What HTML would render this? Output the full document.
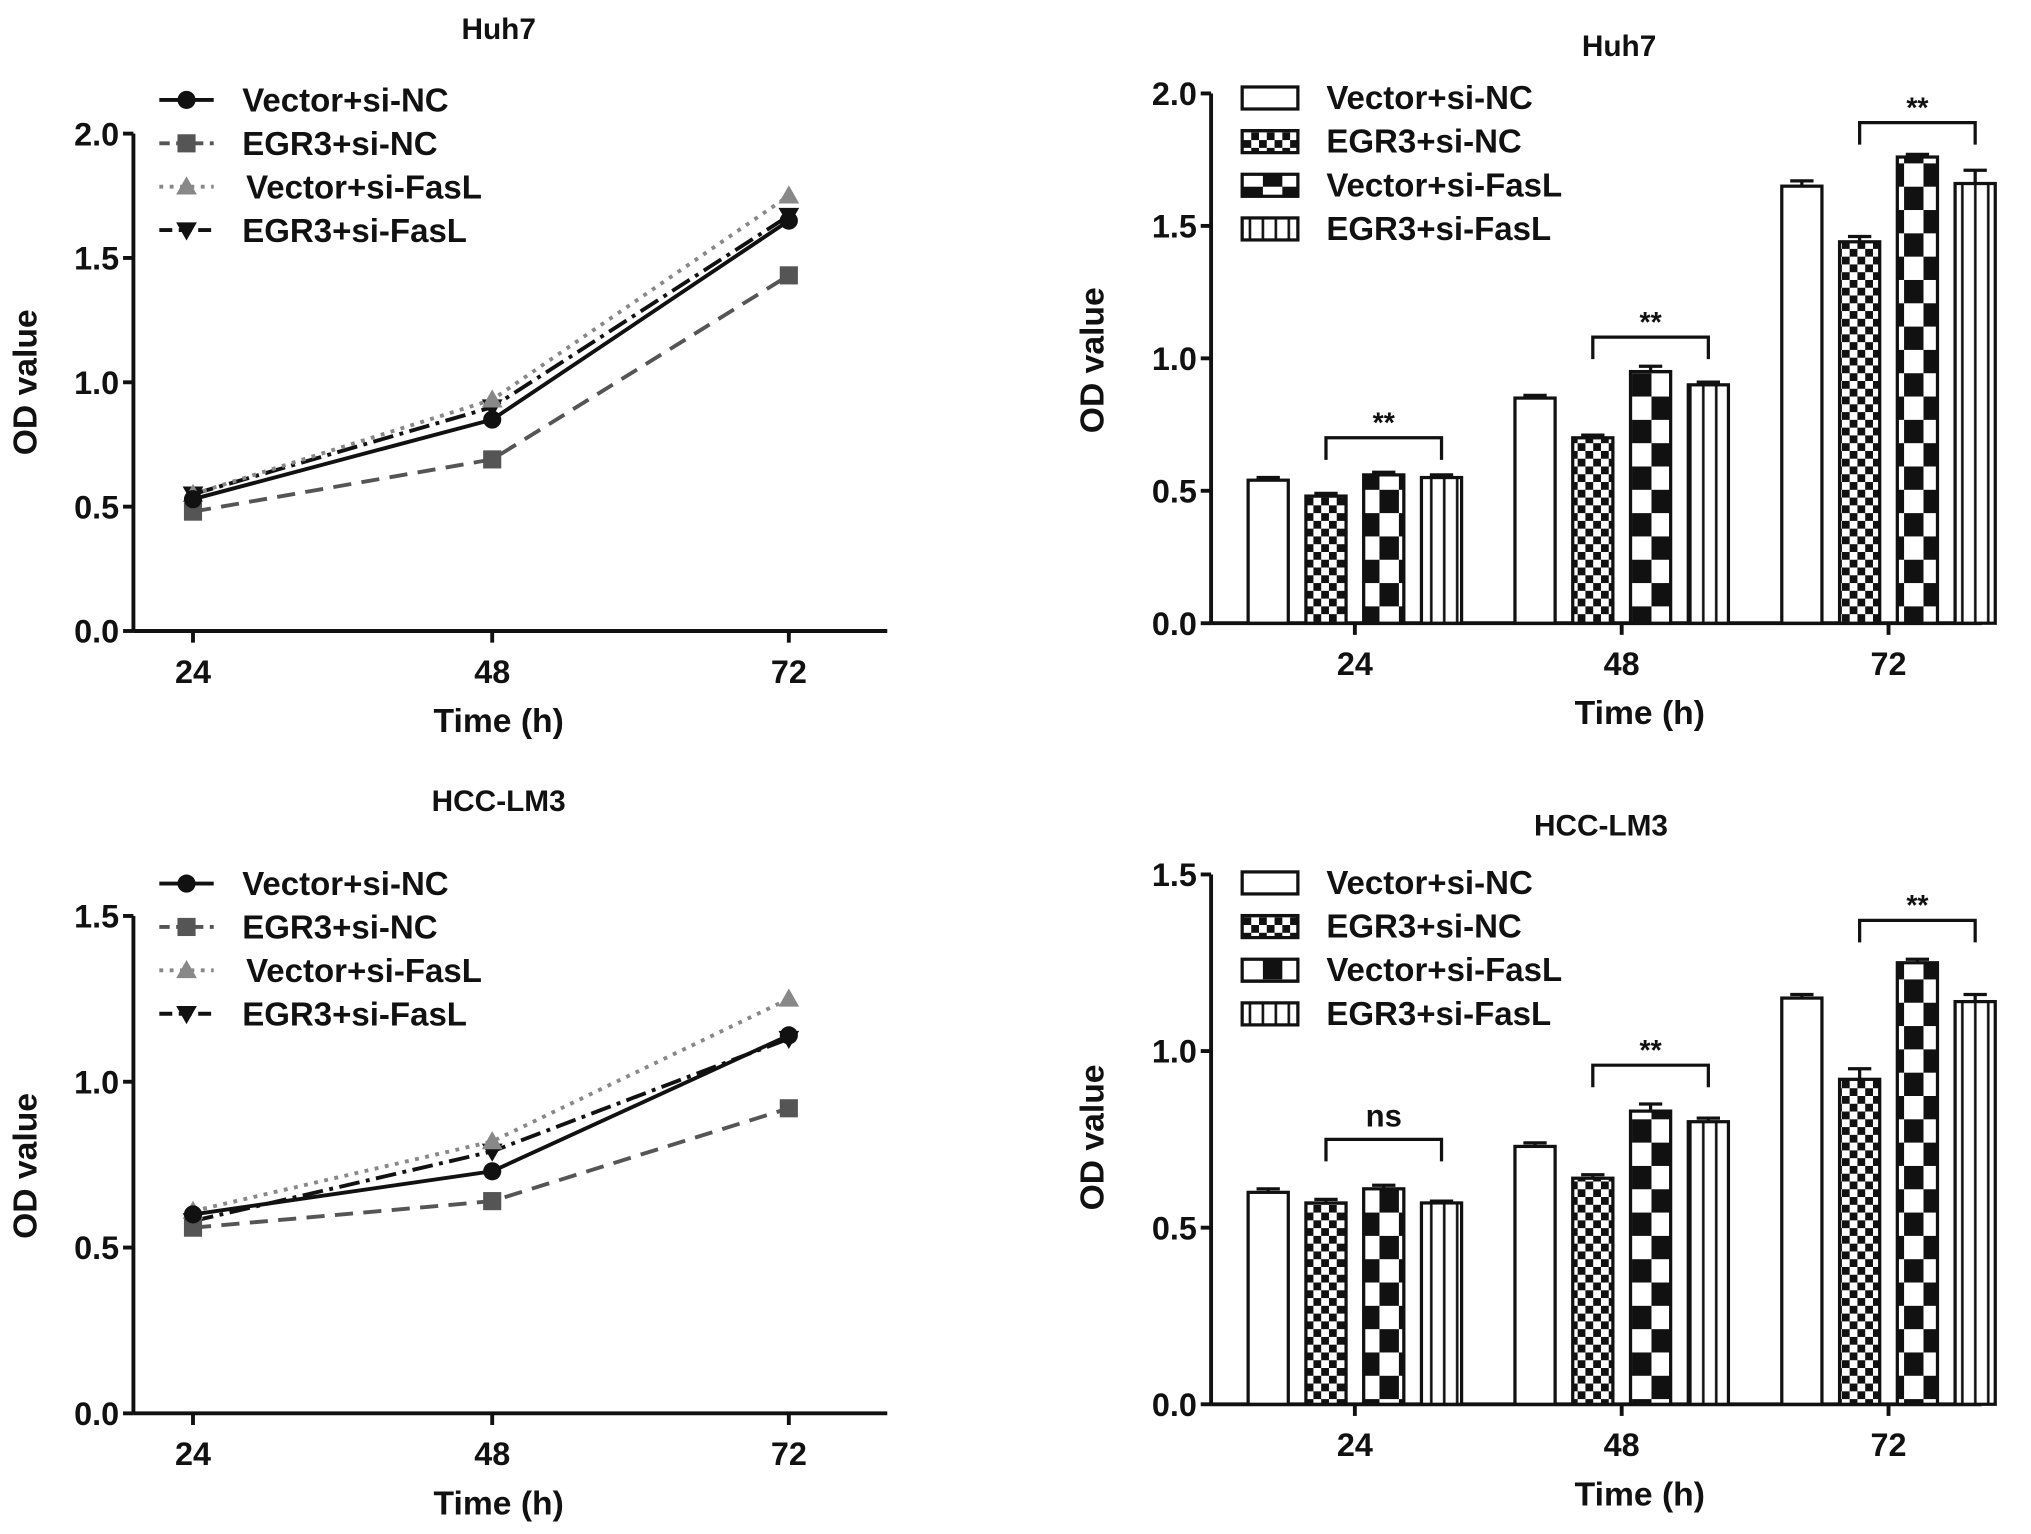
<!DOCTYPE html>
<html><head><meta charset="utf-8"><style>
html,body{margin:0;padding:0;background:#fff}
svg{display:block}
text{font-family:"Liberation Sans",Arial,sans-serif;font-weight:bold;fill:#111}
</style></head><body>
<svg id="fig" width="2031" height="1534" viewBox="0 0 1568 1184" xmlns="http://www.w3.org/2000/svg">
<defs>
<pattern id="pChk" width="12" height="12" patternUnits="userSpaceOnUse"><rect width="12" height="12" fill="#fff"/><rect width="6" height="6" fill="#111"/><rect x="6" y="6" width="6" height="6" fill="#111"/></pattern>
<pattern id="pBig" width="30" height="36" patternUnits="userSpaceOnUse"><rect width="30" height="36" fill="#fff"/><rect x="0" y="0" width="15" height="18" fill="#111"/><rect x="15" y="18" width="15" height="18" fill="#111"/></pattern>
<pattern id="pVert" width="10" height="10" patternUnits="userSpaceOnUse"><rect width="10" height="10" fill="#fff"/><rect x="4" width="2" height="10" fill="#111"/></pattern>
</defs>
</svg>
<script>
const NS="http://www.w3.org/2000/svg";
const svg=document.getElementById('fig');
const seriesNames=["Vector+si-NC","EGR3+si-NC","Vector+si-FasL","EGR3+si-FasL"];
const times=["24","48","72"];
// line chart data
const huhLine_vecNC=[0.53,0.85,1.65];
const huhLine_egrNC=[0.48,0.69,1.43];
const huhLine_vecFas=[0.55,0.93,1.75];
const huhLine_egrFas=[0.55,0.90,1.67];
const lmLine_vecNC=[0.60,0.73,1.14];
const lmLine_egrNC=[0.56,0.64,0.92];
const lmLine_vecFas=[0.61,0.82,1.25];
const lmLine_egrFas=[0.58,0.79,1.13];
// bar chart data (per series across times)
const huhBar_vecNC=[0.54,0.85,1.65];
const huhBar_egrNC=[0.48,0.70,1.44];
const huhBar_vecFas=[0.56,0.95,1.76];
const huhBar_egrFas=[0.55,0.90,1.66];
const huhBar_err=[[0.01,0.01,0.02],[0.01,0.01,0.02],[0.01,0.02,0.01],[0.01,0.01,0.05]];
const lmBar_vecNC=[0.60,0.73,1.15];
const lmBar_egrNC=[0.57,0.64,0.92];
const lmBar_vecFas=[0.61,0.83,1.25];
const lmBar_egrFas=[0.57,0.80,1.14];
const lmBar_err=[[0.01,0.01,0.01],[0.01,0.01,0.03],[0.01,0.02,0.01],[0.005,0.01,0.02]];
const huhSig=["**","**","**"];const huhSigY=[0.70,1.08,1.89];
const lmSig=["ns","**","**"];const lmSigY=[0.75,0.96,1.37];
const huhTicks=["0.0","0.5","1.0","1.5","2.0"];const huhTickVals=[0,0.5,1,1.5,2];
const lmTicks=["0.0","0.5","1.0","1.5"];const lmTickVals=[0,0.5,1,1.5];

function el(tag,attrs,parent,txt){const e=document.createElementNS(NS,tag);for(const k in attrs)e.setAttribute(k,attrs[k]);if(txt!==undefined)e.textContent=txt;(parent||svg).appendChild(e);return e;}

function axes(g,cfg){
  const y=v=>cfg.y0-(v)*cfg.ppu;
  el('line',{x1:cfg.ax,y1:cfg.y0,x2:cfg.ax,y2:y(cfg.ymax),stroke:'#111','stroke-width':3},g);
  el('line',{x1:cfg.ax,y1:cfg.y0,x2:cfg.axEnd,y2:cfg.y0,stroke:'#111','stroke-width':3},g);
  cfg.tickVals.forEach((v,i)=>{
    el('line',{x1:cfg.ax-8,y1:y(v),x2:cfg.ax,y2:y(v),stroke:'#111','stroke-width':3},g);
    const t=el('text',{x:cfg.ax-11,y:y(v)+9,'text-anchor':'end','font-size':25},g,cfg.ticks[i]);
    
    
  });
  times.forEach((tl,i)=>{
    const x=cfg.xs(i);
    el('line',{x1:x,y1:cfg.y0,x2:x,y2:cfg.y0+9,stroke:'#111','stroke-width':3},g);
    const t=el('text',{x:x,y:cfg.y0+40,'text-anchor':'middle','font-size':25},g,tl);
    
    
  });
  const xt=el('text',{x:cfg.xtX,y:cfg.y0+78,'text-anchor':'middle','font-size':26},g,'Time (h)');
  
  const yt=el('text',{x:0,y:0,'text-anchor':'middle','font-size':26,transform:`translate(${cfg.ytX},${cfg.ytY}) rotate(-90)`},g,'OD value');
  
  const tt=el('text',{x:cfg.titleX,y:cfg.titleY,'text-anchor':'middle','font-size':23},g,cfg.title);
  
  return y;
}

function marker(g,type,x,y,fill){
  if(type==0)el('circle',{cx:x,cy:y,r:7,fill:fill},g);
  else if(type==1)el('rect',{x:x-7,y:y-7,width:14,height:14,fill:fill},g);
  else if(type==2)el('polygon',{points:`${x},${y-8} ${x-8},${y+6} ${x+8},${y+6}`,fill:fill},g);
  else el('polygon',{points:`${x},${y+8} ${x-8},${y-6} ${x+8},${y-6}`,fill:fill},g);
}

const lineStyles=[{c:'#111',d:'',w:3},{c:'#555',d:'14 8',w:3},{c:'#888',d:'3 5',w:3},{c:'#111',d:'16 5 3 5',w:3}];

function lineChart(name,cfg,series,legY){
  const g=el('g',{});
  
  const y=axes(g,cfg);
  [3,2,1,0].forEach(si=>{
    const s=series[si],st=lineStyles[si];
    const pts=s.map((v,i)=>cfg.xs(i)+','+y(v)).join(' ');
    const pl=el('polyline',{points:pts,fill:'none',stroke:st.c,'stroke-width':st.w,'stroke-dasharray':st.d},g);
    
    s.forEach((v,i)=>marker(g,si,cfg.xs(i),y(v),st.c));
  });
  seriesNames.forEach((n,i)=>{
    const ly=legY+i*33.5,st=lineStyles[i];
    const lg=el('g',{},g);
    
    el('line',{x1:123,y1:ly,x2:165,y2:ly,stroke:st.c,'stroke-width':3,'stroke-dasharray':i==2?'3 5':(i==1?'8 5':(i==3?'10 5':''))},lg);
    marker(lg,i,144,ly,st.c);
    el('text',{x:i==2?190:187,y:ly+9,'font-size':25.5},lg,n);
  });
}

const fills=['#fff','url(#pChk)','url(#pBig)','url(#pVert)'];

function barChart(name,cfg,series,errs,sig,sigY,legY){
  const g=el('g',{});
  
  const y=axes(g,cfg);
  const bw=31,pitch=44.6;
  times.forEach((t,ti)=>{
    const cx=cfg.xs(ti);
    series.forEach((s,si)=>{
      const x=cx-(1.5*pitch)+si*pitch-bw/2;
      const v=s[ti],e=errs[si][ti];
      el('line',{x1:x+bw/2,y1:y(v),x2:x+bw/2,y2:y(v+e),stroke:'#111','stroke-width':2.5},g);
      el('line',{x1:x+bw/2-9,y1:y(v+e),x2:x+bw/2+9,y2:y(v+e),stroke:'#111','stroke-width':2.5},g);
      const r=el('rect',{x:x,y:y(v),width:bw,height:y(0)-y(v),fill:fills[si],stroke:'#111','stroke-width':2.5},g);
      
    });
    const x1=cx-0.5*pitch,x2=cx+1.5*pitch,by=y(sigY[ti]);
    el('polyline',{points:`${x1},${by+17} ${x1},${by} ${x2},${by} ${x2},${by+17}`,fill:'none',stroke:'#111','stroke-width':2.5},g);
    const st=el('text',{x:(x1+x2)/2,y:sig[ti]=='ns'?by-10:by-4,'text-anchor':'middle','font-size':sig[ti]=='ns'?24:22},g,sig[ti]);
    
  });
  seriesNames.forEach((n,i)=>{
    const ly=legY+i*33.7;
    const lg=el('g',{},g);
    
    el('rect',{x:959,y:ly-8,width:43,height:17,fill:fills[i],stroke:'#111','stroke-width':2.5},lg);
    el('text',{x:1024,y:ly+9,'font-size':25.5},lg,n);
  });
}

const lxs=i=>[149,380,609][i];
lineChart('huh7-line-chart',{ax:103,axEnd:685,y0:487,ppu:192,ymax:2,ticks:huhTicks,tickVals:huhTickVals,xs:lxs,xtX:385,ytX:28,ytY:295,title:'Huh7',titleX:385,titleY:30},
  [huhLine_vecNC,huhLine_egrNC,huhLine_vecFas,huhLine_egrFas],77);
lineChart('hcc-lm3-line-chart',{ax:103,axEnd:685,y0:1091,ppu:256,ymax:1.5,ticks:lmTicks,tickVals:lmTickVals,xs:lxs,xtX:385,ytX:28,ytY:900,title:'HCC-LM3',titleX:385,titleY:626},
  [lmLine_vecNC,lmLine_egrNC,lmLine_vecFas,lmLine_egrFas],682);
const bxs=i=>1046+i*206;
barChart('huh7-bar-chart',{ax:935,axEnd:1530,y0:481,ppu:204.5,ymax:2,ticks:huhTicks,tickVals:huhTickVals,xs:bxs,xtX:1266,ytX:852,ytY:278,title:'Huh7',titleX:1250,titleY:43},
  [huhBar_vecNC,huhBar_egrNC,huhBar_vecFas,huhBar_egrFas],huhBar_err,huhSig,huhSigY,75);
barChart('hcc-lm3-bar-chart',{ax:935,axEnd:1530,y0:1084,ppu:272.7,ymax:1.5,ticks:lmTicks,tickVals:lmTickVals,xs:bxs,xtX:1266,ytX:852,ytY:878,title:'HCC-LM3',titleX:1236,titleY:645},
  [lmBar_vecNC,lmBar_egrNC,lmBar_vecFas,lmBar_egrFas],lmBar_err,lmSig,lmSigY,681);
</script>
</body></html>
